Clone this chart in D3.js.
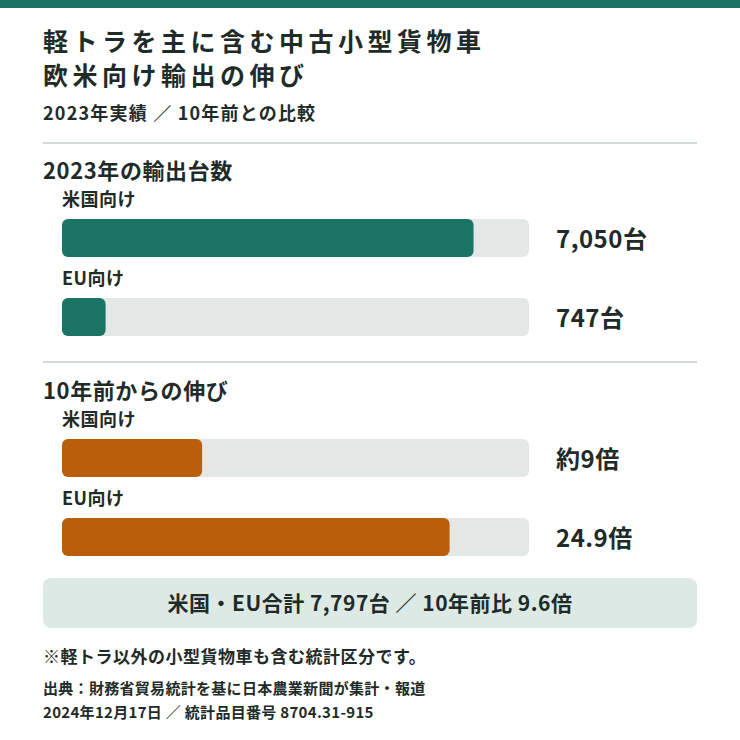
<!DOCTYPE html>
<html><head><meta charset="utf-8">
<script src="https://cdn.jsdelivr.net/npm/d3@7"></script>
<style>body{margin:0;background:#fff}</style>
</head><body>
<script>
const exportLabels = ["米国向け", "EU向け"];
const exportValues = [7050, 747];
const exportText = ["7,050台", "747台"];
const growthLabels = ["米国向け", "EU向け"];
const growthValues = [9, 24.9];
const growthText = ["約9倍", "24.9倍"];

const width = 740, height = 740;
const font = "'Noto Sans CJK JP', 'Noto Sans', sans-serif";
const ink = "#1f2b28";

const svg = d3.create("svg").attr("width", width).attr("height", height)
  .style("font-family", font);

svg.append("rect").attr("width", width).attr("height", 8).attr("fill", "#1a7363");

const txt = (x, y, s, size, weight, opts = {}) => svg.append("text")
  .attr("x", x).attr("y", y).attr("font-size", size).attr("font-weight", weight)
  .attr("letter-spacing", opts.ls || 0)
  .attr("fill", opts.fill || ink).attr("text-anchor", opts.anchor || "start").text(s);

txt(43, 51, "軽トラを主に含む中古小型貨物車", 25, 700, { ls: 4.5 });
txt(43, 85, "欧米向け輸出の伸び", 25, 700, { ls: 4.5 });
txt(43, 120, "2023年実績 ／ 10年前との比較", 18, 600, { ls: 1.2 });

const rule = y => svg.append("line").attr("x1", 43).attr("x2", 697).attr("y1", y).attr("y2", y)
  .attr("stroke", "#c5ccc9").attr("stroke-width", 1.5);
rule(143);
rule(362);

function section(top, heading, labels, values, texts, max, color) {
  txt(43, top + 36, heading, 22, 700, { ls: 0.6 });
  const x = d3.scaleLinear().domain([0, max]).range([62, 529]);
  const bandTop = d3.scaleBand().domain(d3.range(labels.length)).range([top, top + 158]);
  labels.forEach((l, i) => {
    const y0 = bandTop(i);
    txt(62, y0 + 63, l, 18, 600, { ls: 0.5 });
    const by = y0 + 76;
    svg.append("rect").attr("x", x(0)).attr("y", by).attr("width", x(max) - x(0)).attr("height", 38)
      .attr("rx", 6).attr("fill", "#e3e8e6");
    svg.append("rect").attr("x", x(0)).attr("y", by).attr("width", x(values[i]) - x(0)).attr("height", 38)
      .attr("rx", 6).attr("fill", color);
    txt(556, by + 29, texts[i], 24, 700, { ls: 0.5 });
  });
}
section(143, "2023年の輸出台数", exportLabels, exportValues, exportText, 8000, "#1a7565");
section(363, "10年前からの伸び", growthLabels, growthValues, growthText, 30, "#b95e0b");

svg.append("rect").attr("x", 43).attr("y", 578).attr("width", 654).attr("height", 50)
  .attr("rx", 8).attr("fill", "#dce9e5");
txt(370, 611, "米国・EU合計 7,797台 ／ 10年前比 9.6倍", 21, 700, { anchor: "middle", ls: 0.5 });

txt(43, 663, "※軽トラ以外の小型貨物車も含む統計区分です。", 17, 600, { ls: 0.5 });
txt(43, 694, "出典：財務省貿易統計を基に日本農業新聞が集計・報道", 15, 600, { ls: 0.3 });
txt(43, 718, "2024年12月17日 ／ 統計品目番号 8704.31-915", 15, 600, { ls: 0.3 });

document.body.appendChild(svg.node());
</script>
</body></html>
